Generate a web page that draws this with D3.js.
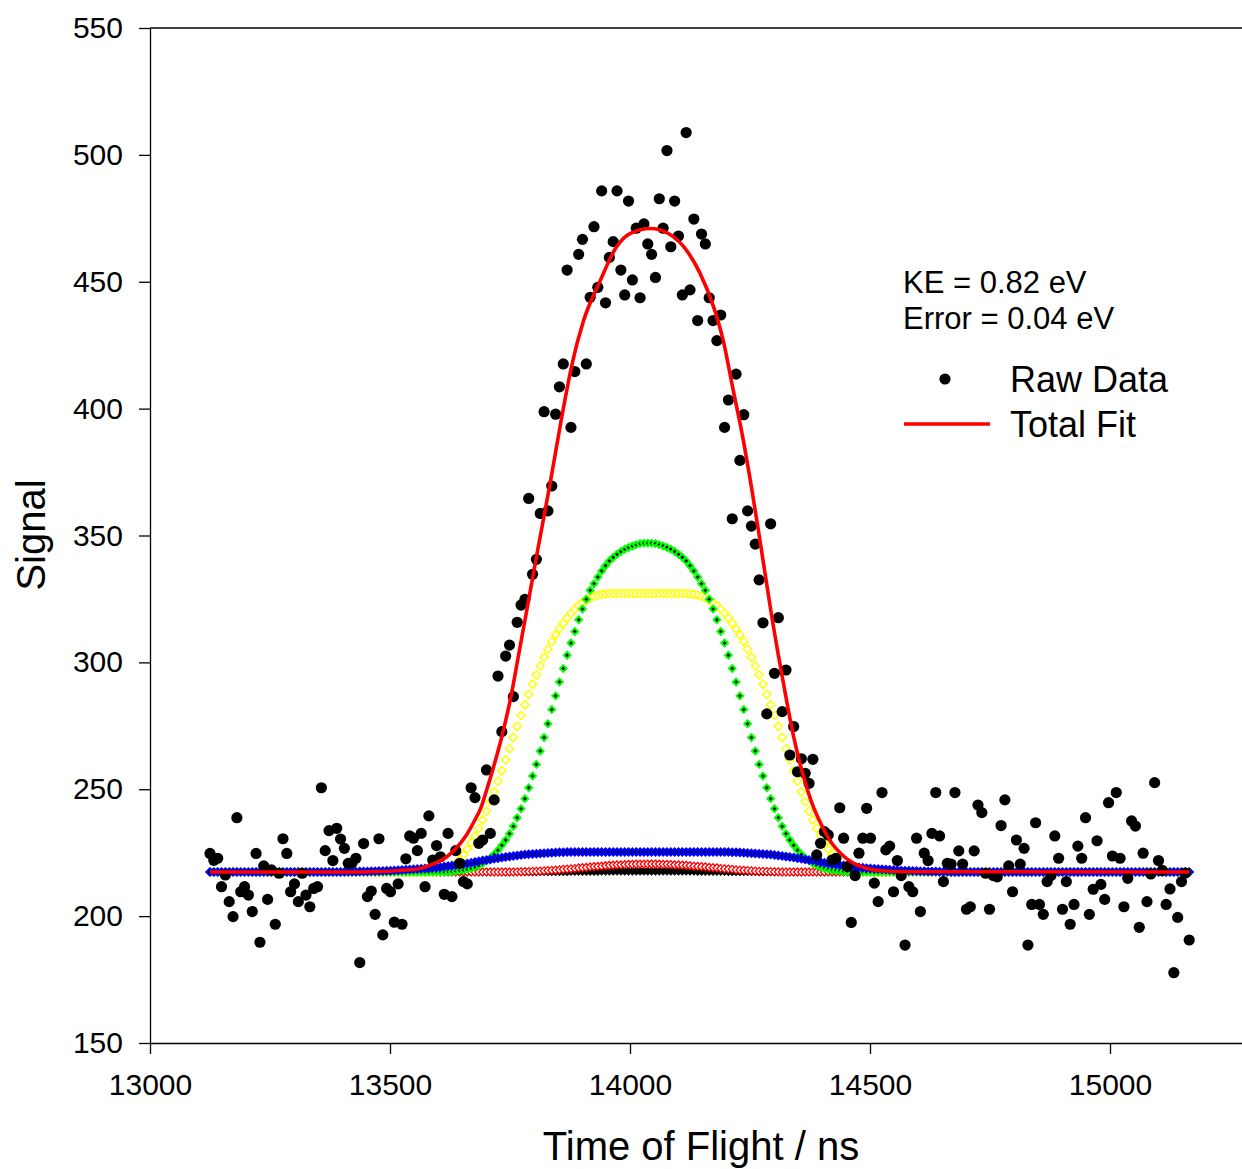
<!DOCTYPE html>
<html><head><meta charset="utf-8">
<script src="https://d3js.org/d3.v7.min.js"></script>
<style>body{margin:0;background:#fff}</style>
</head><body>
<svg id="chart" width="1242" height="1169"></svg>
<script>
// ---------- data ----------
const xTicks = [13000, 13500, 14000, 14500, 15000];
const yTicks = [150, 200, 250, 300, 350, 400, 450, 500, 550];
const annotationLines = ["KE = 0.82 eV", "Error = 0.04 eV"];
const legendLabels = ["Raw Data", "Total Fit"];
const xTitle = "Time of Flight / ns";
const yTitle = "Signal";

// time-of-flight grid of the measurement (ns)
const rawX = [
13125,13133,13141,13149,13157,13165,13173,13181,13189,13197,
13205,13213,13221,13229,13237,13245,13253,13261,13269,13277,
13285,13293,13301,13309,13317,13325,13333,13341,13349,13357,
13365,13373,13381,13389,13397,13405,13413,13421,13429,13437,
13445,13453,13461,13469,13477,13485,13493,13501,13509,13517,
13525,13533,13541,13549,13557,13565,13573,13581,13589,13597,
13605,13613,13621,13629,13637,13645,13653,13661,13669,13677,
13685,13693,13701,13709,13717,13725,13733,13741,13749,13757,
13765,13773,13781,13789,13797,13805,13813,13821,13829,13837,
13845,13853,13861,13869,13877,13885,13893,13901,13909,13917,
13925,13933,13941,13949,13957,13965,13973,13981,13989,13997,
14005,14013,14021,14029,14037,14045,14053,14061,14069,14077,
14085,14093,14101,14109,14117,14125,14133,14141,14149,14157,
14165,14173,14181,14189,14197,14205,14213,14221,14229,14237,
14245,14253,14261,14269,14277,14285,14293,14301,14309,14317,
14325,14333,14341,14349,14357,14365,14373,14381,14389,14397,
14405,14413,14421,14429,14437,14445,14453,14461,14469,14477,
14485,14493,14501,14509,14517,14525,14533,14541,14549,14557,
14565,14573,14581,14589,14597,14605,14613,14621,14629,14637,
14645,14653,14661,14669,14677,14685,14693,14701,14709,14717,
14725,14733,14741,14749,14757,14765,14773,14781,14789,14797,
14805,14813,14821,14829,14837,14845,14853,14861,14869,14877,
14885,14893,14901,14909,14917,14925,14933,14941,14949,14957,
14965,14973,14981,14989,14997,15005,15013,15021,15029,15037,
15045,15053,15061,15069,15077,15085,15093,15101,15109,15117,
15125,15133,15141,15149,15157,15165];

// Raw Data signal
const rawY = [
224.7,222.0,222.8,211.6,216.2,205.7,199.8,238.8,209.6,211.6,
208.3,201.8,224.7,189.7,219.8,206.6,218.2,196.8,216.9,230.5,
224.7,209.6,212.7,205.7,216.9,208.3,203.7,210.9,211.6,250.6,
225.8,233.7,221.9,234.6,230.4,226.7,220.8,221.0,222.8,181.7,
228.6,207.7,209.9,200.7,230.5,192.6,210.9,209.6,197.6,212.7,
196.8,222.6,231.6,230.7,225.8,232.6,211.6,239.5,222.1,227.8,
223.4,208.6,232.6,207.7,225.8,220.8,213.6,212.7,250.6,246.7,
228.7,230.0,257.6,232.6,245.8,294.6,272.7,302.5,306.8,286.5,
315.8,322.6,324.8,364.6,334.7,340.6,358.7,398.8,359.7,369.5,
397.8,408.6,417.6,454.6,392.6,414.6,460.8,466.7,417.6,443.9,
471.7,447.8,485.8,441.7,459.6,465.8,485.8,454.6,444.8,481.8,
450.7,471.1,443.7,472.8,464.9,460.8,451.7,482.7,471.1,501.7,
463.8,481.8,468.0,444.8,508.8,446.8,474.7,434.7,468.8,464.9,
443.7,434.7,426.8,436.9,392.6,403.4,356.6,413.6,379.6,397.6,
359.7,353.7,346.6,332.5,315.6,279.7,354.6,295.7,317.6,280.6,
297.0,263.5,274.7,256.9,262.0,256.3,252.3,261.8,224.1,228.7,
233.3,232.0,222.1,222.8,242.7,230.7,219.5,197.5,216.0,224.8,
230.7,242.5,230.7,213.0,205.7,248.7,226.1,227.6,209.6,221.9,
216.0,188.6,211.6,209.6,230.7,201.8,224.8,221.9,232.6,248.7,
231.6,213.6,220.8,220.5,248.7,225.7,220.5,202.7,203.7,225.7,
243.8,240.8,216.9,202.7,216.0,215.5,235.7,245.8,219.8,209.6,
230.0,220.5,226.7,188.6,204.6,236.8,204.6,200.7,213.6,216.0,
231.6,222.8,202.7,213.6,196.8,204.6,227.6,222.8,238.8,200.7,
210.6,229.7,212.5,206.6,244.7,223.7,248.7,222.8,203.7,214.9,
237.5,235.5,195.6,224.8,205.7,216.6,252.6,221.9,218.0,204.6,
210.7,177.7,199.5,213.6,217.0,190.6];

// fit components (symbol series), same time grid
const compGreen = [
217.4,217.4,217.4,217.4,217.4,217.4,217.4,217.4,217.4,217.4,
217.4,217.4,217.4,217.4,217.4,217.4,217.4,217.4,217.4,217.4,
217.4,217.4,217.4,217.4,217.4,217.4,217.4,217.4,217.4,217.4,
217.4,217.4,217.4,217.4,217.4,217.4,217.4,217.4,217.4,217.4,
217.4,217.4,217.4,217.4,217.4,217.4,217.4,217.4,217.4,217.4,
217.4,217.4,217.4,217.4,217.4,217.4,217.4,217.4,217.4,217.4,
217.4,217.4,217.5,217.6,217.8,218.0,218.2,218.5,218.9,219.4,
220.0,220.8,221.8,222.9,224.3,226.0,227.9,230.0,232.5,235.4,
238.8,242.3,246.3,250.6,255.2,259.8,265.1,270.4,275.8,281.4,
286.8,292.3,297.6,302.8,307.6,312.2,316.8,321.0,324.9,328.4,
331.0,333.6,336.0,338.1,340.0,341.4,342.6,343.7,344.6,345.3,
345.9,346.4,346.8,347.0,347.0,347.0,346.8,346.4,345.9,345.3,
344.6,343.7,342.6,341.4,340.0,338.1,336.0,333.6,331.0,328.4,
324.9,321.0,316.8,312.2,307.6,302.8,297.6,292.3,286.8,281.4,
275.8,270.4,265.1,259.8,255.2,250.6,246.3,242.3,238.8,235.4,
232.5,230.0,227.9,226.0,224.3,222.9,221.8,220.8,220.0,219.4,
218.9,218.5,218.2,218.0,217.8,217.6,217.5,217.4,217.4,217.4,
217.4,217.4,217.4,217.4,217.4,217.4,217.4,217.4,217.4,217.4,
217.4,217.4,217.4,217.4,217.4,217.4,217.4,217.4,217.4,217.4,
217.4,217.4,217.4,217.4,217.4,217.4,217.4,217.4,217.4,217.4,
217.4,217.4,217.4,217.4,217.4,217.4,217.4,217.4,217.4,217.4,
217.4,217.4,217.4,217.4,217.4,217.4,217.4,217.4,217.4,217.4,
217.4,217.4,217.4,217.4,217.4,217.4,217.4,217.4,217.4,217.4,
217.4,217.4,217.4,217.4,217.4,217.4,217.4,217.4,217.4,217.4,
217.4,217.4,217.4,217.4,217.4,217.4,217.4,217.4,217.4,217.4,
217.4,217.4,217.4,217.4,217.4,217.4];

const compYellow = [
217.4,217.4,217.4,217.4,217.4,217.4,217.4,217.4,217.4,217.4,
217.4,217.4,217.4,217.4,217.4,217.4,217.4,217.4,217.4,217.4,
217.4,217.4,217.4,217.4,217.4,217.4,217.4,217.4,217.4,217.4,
217.4,217.4,217.4,217.4,217.4,217.4,217.4,217.4,217.4,217.4,
217.4,217.4,217.4,217.4,217.4,217.4,217.4,217.4,217.4,217.4,
217.4,217.4,217.4,217.4,217.4,217.4,217.4,217.4,217.4,217.5,
217.7,218.0,218.6,219.5,220.6,222.2,224.2,226.4,228.9,231.6,
234.6,237.9,241.4,245.2,249.0,253.2,257.3,261.6,266.0,270.4,
274.8,279.1,283.3,287.4,291.4,295.1,298.6,302.0,305.2,308.2,
310.8,313.2,315.4,317.5,319.4,321.0,322.4,323.6,324.6,325.4,
326.0,326.5,326.8,327.0,327.2,327.2,327.2,327.2,327.2,327.2,
327.2,327.2,327.2,327.2,327.2,327.2,327.2,327.2,327.2,327.2,
327.2,327.2,327.2,327.2,327.2,327.0,326.8,326.5,326.0,325.4,
324.6,323.6,322.4,321.0,319.4,317.5,315.4,313.2,310.8,308.2,
305.2,302.0,298.6,295.1,291.4,287.4,283.3,279.1,274.8,270.4,
266.0,261.6,257.3,253.2,249.0,245.2,241.4,237.9,234.6,231.6,
228.9,226.4,224.2,222.2,220.6,219.5,218.6,218.0,217.7,217.5,
217.4,217.4,217.4,217.4,217.4,217.4,217.4,217.4,217.4,217.4,
217.4,217.4,217.4,217.4,217.4,217.4,217.4,217.4,217.4,217.4,
217.4,217.4,217.4,217.4,217.4,217.4,217.4,217.4,217.4,217.4,
217.4,217.4,217.4,217.4,217.4,217.4,217.4,217.4,217.4,217.4,
217.4,217.4,217.4,217.4,217.4,217.4,217.4,217.4,217.4,217.4,
217.4,217.4,217.4,217.4,217.4,217.4,217.4,217.4,217.4,217.4,
217.4,217.4,217.4,217.4,217.4,217.4,217.4,217.4,217.4,217.4,
217.4,217.4,217.4,217.4,217.4,217.4,217.4,217.4,217.4,217.4,
217.4,217.4,217.4,217.4,217.4,217.4];

const compBlue = [
217.4,217.4,217.4,217.4,217.4,217.4,217.4,217.4,217.4,217.4,
217.4,217.4,217.4,217.4,217.4,217.4,217.4,217.4,217.4,217.4,
217.4,217.4,217.4,217.4,217.4,217.4,217.4,217.4,217.4,217.4,
217.4,217.4,217.4,217.4,217.4,217.4,217.5,217.5,217.5,217.6,
217.6,217.6,217.7,217.7,217.8,217.8,217.9,217.9,218.0,218.1,
218.2,218.3,218.4,218.5,218.6,218.7,218.8,218.9,219.1,219.2,
219.3,219.5,219.7,219.9,220.1,220.3,220.5,220.7,221.0,221.3,
221.6,221.9,222.1,222.3,222.6,222.8,223.1,223.3,223.5,223.7,
223.9,224.1,224.3,224.4,224.5,224.6,224.7,224.8,224.9,225.0,
225.1,225.2,225.2,225.3,225.3,225.3,225.3,225.3,225.3,225.3,
225.3,225.3,225.3,225.3,225.3,225.3,225.3,225.3,225.3,225.3,
225.3,225.3,225.3,225.3,225.3,225.3,225.3,225.3,225.3,225.3,
225.3,225.3,225.3,225.3,225.3,225.3,225.3,225.3,225.3,225.3,
225.3,225.3,225.3,225.3,225.3,225.3,225.2,225.2,225.1,225.0,
224.9,224.8,224.7,224.6,224.5,224.4,224.3,224.1,223.9,223.7,
223.5,223.3,223.1,222.8,222.6,222.3,222.1,221.9,221.6,221.3,
221.0,220.7,220.5,220.3,220.1,219.9,219.7,219.5,219.3,219.2,
219.1,218.9,218.8,218.7,218.6,218.5,218.4,218.3,218.2,218.1,
218.0,217.9,217.9,217.8,217.8,217.7,217.7,217.6,217.6,217.6,
217.5,217.5,217.5,217.4,217.4,217.4,217.4,217.4,217.4,217.4,
217.4,217.4,217.4,217.4,217.4,217.4,217.4,217.4,217.4,217.4,
217.4,217.4,217.4,217.4,217.4,217.4,217.4,217.4,217.4,217.4,
217.4,217.4,217.4,217.4,217.4,217.4,217.4,217.4,217.4,217.4,
217.4,217.4,217.4,217.4,217.4,217.4,217.4,217.4,217.4,217.4,
217.4,217.4,217.4,217.4,217.4,217.4,217.4,217.4,217.4,217.4,
217.4,217.4,217.4,217.4,217.4,217.4];

const compRed = [
217.4,217.4,217.4,217.4,217.4,217.4,217.4,217.4,217.4,217.4,
217.4,217.4,217.4,217.4,217.4,217.4,217.4,217.4,217.4,217.4,
217.4,217.4,217.4,217.4,217.4,217.4,217.4,217.4,217.4,217.4,
217.4,217.4,217.4,217.4,217.4,217.4,217.4,217.4,217.4,217.4,
217.4,217.4,217.4,217.4,217.4,217.4,217.4,217.4,217.4,217.4,
217.4,217.4,217.4,217.4,217.4,217.4,217.4,217.4,217.4,217.4,
217.4,217.4,217.4,217.4,217.4,217.4,217.4,217.4,217.4,217.4,
217.4,217.4,217.4,217.4,217.4,217.4,217.4,217.4,217.4,217.4,
217.5,217.5,217.6,217.6,217.7,217.7,217.8,217.9,218.0,218.1,
218.2,218.3,218.5,218.6,218.7,218.8,219.0,219.1,219.2,219.4,
219.5,219.6,219.7,219.9,220.0,220.1,220.2,220.2,220.3,220.4,
220.4,220.5,220.5,220.5,220.5,220.5,220.5,220.5,220.4,220.4,
220.3,220.2,220.2,220.1,220.0,219.9,219.7,219.6,219.5,219.4,
219.2,219.1,219.0,218.8,218.7,218.6,218.5,218.3,218.2,218.1,
218.0,217.9,217.8,217.7,217.7,217.6,217.6,217.5,217.5,217.4,
217.4,217.4,217.4,217.4,217.4,217.4,217.4,217.4,217.4,217.4,
217.4,217.4,217.4,217.4,217.4,217.4,217.4,217.4,217.4,217.4,
217.4,217.4,217.4,217.4,217.4,217.4,217.4,217.4,217.4,217.4,
217.4,217.4,217.4,217.4,217.4,217.4,217.4,217.4,217.4,217.4,
217.4,217.4,217.4,217.4,217.4,217.4,217.4,217.4,217.4,217.4,
217.4,217.4,217.4,217.4,217.4,217.4,217.4,217.4,217.4,217.4,
217.4,217.4,217.4,217.4,217.4,217.4,217.4,217.4,217.4,217.4,
217.4,217.4,217.4,217.4,217.4,217.4,217.4,217.4,217.4,217.4,
217.4,217.4,217.4,217.4,217.4,217.4,217.4,217.4,217.4,217.4,
217.4,217.4,217.4,217.4,217.4,217.4,217.4,217.4,217.4,217.4,
217.4,217.4,217.4,217.4,217.4,217.4];

const compBlack = [
217.4,217.4,217.4,217.4,217.4,217.4,217.4,217.4,217.4,217.4,
217.4,217.4,217.4,217.4,217.4,217.4,217.4,217.4,217.4,217.4,
217.4,217.4,217.4,217.4,217.4,217.4,217.4,217.4,217.4,217.4,
217.4,217.4,217.4,217.4,217.4,217.4,217.4,217.4,217.4,217.4,
217.4,217.4,217.4,217.4,217.4,217.4,217.4,217.4,217.4,217.4,
217.4,217.4,217.4,217.4,217.4,217.4,217.4,217.4,217.4,217.4,
217.4,217.4,217.4,217.4,217.4,217.4,217.4,217.4,217.4,217.4,
217.4,217.4,217.4,217.4,217.4,217.4,217.4,217.4,217.4,217.4,
217.4,217.4,217.4,217.4,217.4,217.4,217.5,217.5,217.5,217.5,
217.5,217.5,217.5,217.5,217.6,217.6,217.6,217.6,217.6,217.6,
217.6,217.6,217.7,217.7,217.7,217.7,217.7,217.7,217.7,217.7,
217.7,217.7,217.7,217.7,217.7,217.7,217.7,217.7,217.7,217.7,
217.7,217.7,217.7,217.7,217.7,217.7,217.7,217.6,217.6,217.6,
217.6,217.6,217.6,217.6,217.6,217.5,217.5,217.5,217.5,217.5,
217.5,217.5,217.5,217.4,217.4,217.4,217.4,217.4,217.4,217.4,
217.4,217.4,217.4,217.4,217.4,217.4,217.4,217.4,217.4,217.4,
217.4,217.4,217.4,217.4,217.4,217.4,217.4,217.4,217.4,217.4,
217.4,217.4,217.4,217.4,217.4,217.4,217.4,217.4,217.4,217.4,
217.4,217.4,217.4,217.4,217.4,217.4,217.4,217.4,217.4,217.4,
217.4,217.4,217.4,217.4,217.4,217.4,217.4,217.4,217.4,217.4,
217.4,217.4,217.4,217.4,217.4,217.4,217.4,217.4,217.4,217.4,
217.4,217.4,217.4,217.4,217.4,217.4,217.4,217.4,217.4,217.4,
217.4,217.4,217.4,217.4,217.4,217.4,217.4,217.4,217.4,217.4,
217.4,217.4,217.4,217.4,217.4,217.4,217.4,217.4,217.4,217.4,
217.4,217.4,217.4,217.4,217.4,217.4,217.4,217.4,217.4,217.4,
217.4,217.4,217.4,217.4,217.4,217.4];

// Total Fit line (knots)
const totalX = [13125,13400,13480,13520,13560,13590,13618,13646,13660,13673,
  13691,13701,13715,13733,13753,13767,13781,13806,13833,13865,
  13878,13903,13937,13972,14000,14043,14080,14111,14146,14174,
  14194,14215,14236,14254,14270,14295,14321,14340,14360,14380,
  14400,14420,14440,14460,14490,14530,14580,15165];
const totalY = [217.4,217.4,217.6,218.0,218.7,220.6,223.3,228.6,232.2,236.5,
  243.5,249.5,258.3,270.8,287.5,302.0,316.5,342.5,370.0,404.0,
  416.5,434.5,450.0,463.8,469.0,471.0,469.0,464.0,453.3,440.2,
  427.0,407.3,387.6,367.9,349.0,318.5,290.4,271.5,256.0,244.0,
  235.5,228.8,224.5,221.5,219.0,217.8,217.5,217.4];

// ---------- drawing ----------
const FONT = "'Liberation Sans', Arial, Helvetica, sans-serif";
const svg = d3.select("#chart");
svg.append("rect").attr("width", 1242).attr("height", 1169).attr("fill", "#fff");

const x = d3.scaleLinear().domain([13000, 15275]).range([150, 1242]);
const y = d3.scaleLinear().domain([150, 550]).range([1043, 28]);

const plot = svg.append("g");

function series(values, style) {
  const n = Math.min(rawX.length, values.length);
  const pts = d3.range(n).map(i => [rawX[i], values[i]]);
  const sym = d3.symbol().type(d3.symbolSquare).size(style.size);
  plot.append("g").selectAll("path").data(pts).join("path")
    .attr("d", sym)
    .attr("transform", d => `translate(${x(d[0])},${y(d[1])}) rotate(45)`)
    .attr("fill", style.fill).attr("stroke", style.stroke)
    .attr("stroke-width", style.sw);
}
series(compBlack,  {size: 30, fill: "#000", stroke: "#000", sw: 1});
series(compRed,    {size: 30, fill: "#fff", stroke: "#ff0000", sw: 1.3});
series(compYellow, {size: 34, fill: "#fff", stroke: "#ffff00", sw: 1.5});
series(compGreen,  {size: 22, fill: "#000", stroke: "#00ff00", sw: 2});
series(compBlue,   {size: 26, fill: "#000", stroke: "#0000ff", sw: 2});

// raw data points
plot.append("g").selectAll("circle")
  .data(d3.range(Math.min(rawX.length, rawY.length)))
  .join("circle")
  .attr("cx", i => x(rawX[i])).attr("cy", i => y(rawY[i]))
  .attr("r", 5.6).attr("fill", "#000");

// total fit
const line = d3.line().x(d => x(d[0])).y(d => y(d[1])).curve(d3.curveMonotoneX);
plot.append("path").datum(d3.zip(totalX, totalY))
  .attr("d", line).attr("fill", "none")
  .attr("stroke", "#ff0000").attr("stroke-width", 3.6).attr("stroke-linejoin", "round");

// axes
const xAxis = d3.axisBottom(x).tickValues(xTicks).tickSize(11).tickSizeOuter(0)
  .tickPadding(20).tickFormat(d3.format("d"));
const yAxis = d3.axisLeft(y).tickValues(yTicks).tickSize(11).tickSizeOuter(0)
  .tickPadding(16).tickFormat(d3.format("d"));
const gx = svg.append("g").attr("transform", "translate(0,1043)").call(xAxis);
const gy = svg.append("g").attr("transform", "translate(150,0)").call(yAxis);
[gx, gy].forEach(g => {
  g.attr("font-family", FONT).attr("font-size", 30);
  g.selectAll("path.domain").attr("stroke", "#000").attr("stroke-width", 1.3);
  g.selectAll(".tick line").attr("stroke", "#000").attr("stroke-width", 1.3);
  g.selectAll(".tick text").attr("fill", "#000");
});
svg.append("line").attr("x1", x(13000)).attr("x2", x(15275))
  .attr("y1", y(550)).attr("y2", y(550)).attr("stroke", "#000").attr("stroke-width", 1.3);

// titles
svg.append("text").attr("x", 701).attr("y", 1160).attr("text-anchor", "middle")
  .attr("font-family", FONT).attr("font-size", 40).text(xTitle);
svg.append("text").attr("transform", "translate(45,535) rotate(-90)")
  .attr("text-anchor", "middle").attr("font-family", FONT).attr("font-size", 40).text(yTitle);

// annotation
svg.append("g").selectAll("text").data(annotationLines).join("text")
  .attr("x", 903).attr("y", (d, i) => 293 + i * 36)
  .attr("font-family", FONT).attr("font-size", 31).text(d => d);

// legend
const lg = svg.append("g");
lg.append("circle").attr("cx", 945).attr("cy", 379).attr("r", 5.6).attr("fill", "#000");
lg.append("line").attr("x1", 904).attr("x2", 990).attr("y1", 424).attr("y2", 424)
  .attr("stroke", "#ff0000").attr("stroke-width", 3.6);
lg.selectAll("text").data(legendLabels).join("text")
  .attr("x", 1010).attr("y", (d, i) => 392 + i * 45)
  .attr("font-family", FONT).attr("font-size", 36).text(d => d);
</script>
</body></html>
